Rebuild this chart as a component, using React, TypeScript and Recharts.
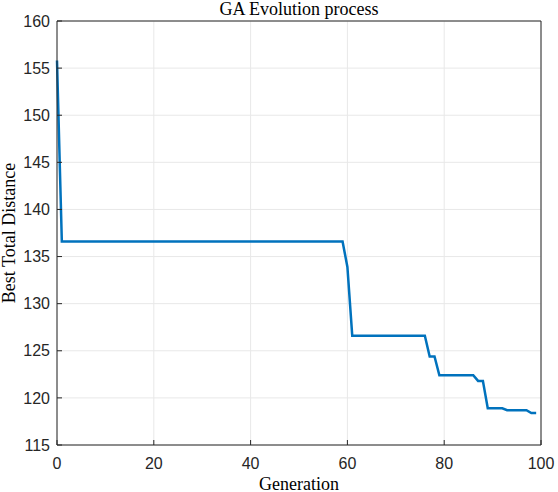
import React from 'react';
import { LineChart, Line, XAxis, YAxis, CartesianGrid } from 'recharts';

// generation index
const generations = [
    0, 1, 2, 3, 4, 5, 6, 7, 8, 9,
    10, 11, 12, 13, 14, 15, 16, 17, 18, 19,
    20, 21, 22, 23, 24, 25, 26, 27, 28, 29,
    30, 31, 32, 33, 34, 35, 36, 37, 38, 39,
    40, 41, 42, 43, 44, 45, 46, 47, 48, 49,
    50, 51, 52, 53, 54, 55, 56, 57, 58, 59,
    60, 61, 62, 63, 64, 65, 66, 67, 68, 69,
    70, 71, 72, 73, 74, 75, 76, 77, 78, 79,
    80, 81, 82, 83, 84, 85, 86, 87, 88, 89,
    90, 91, 92, 93, 94, 95, 96, 97, 98, 99,
];

// best total distance per generation
const bestDistance = [
    155.8, 136.6, 136.6, 136.6, 136.6, 136.6, 136.6, 136.6, 136.6, 136.6,
    136.6, 136.6, 136.6, 136.6, 136.6, 136.6, 136.6, 136.6, 136.6, 136.6,
    136.6, 136.6, 136.6, 136.6, 136.6, 136.6, 136.6, 136.6, 136.6, 136.6,
    136.6, 136.6, 136.6, 136.6, 136.6, 136.6, 136.6, 136.6, 136.6, 136.6,
    136.6, 136.6, 136.6, 136.6, 136.6, 136.6, 136.6, 136.6, 136.6, 136.6,
    136.6, 136.6, 136.6, 136.6, 136.6, 136.6, 136.6, 136.6, 136.6, 136.6,
    133.9, 126.6, 126.6, 126.6, 126.6, 126.6, 126.6, 126.6, 126.6, 126.6,
    126.6, 126.6, 126.6, 126.6, 126.6, 126.6, 126.6, 124.4, 124.4, 122.4,
    122.4, 122.4, 122.4, 122.4, 122.4, 122.4, 122.4, 121.8, 121.8, 118.9,
    118.9, 118.9, 118.9, 118.7, 118.7, 118.7, 118.7, 118.7, 118.4, 118.4,
];

const xTicks = [0, 20, 40, 60, 80, 100];
const yTicks = [115, 120, 125, 130, 135, 140, 145, 150, 155, 160];

const data = generations.map((g, i) => ({ gen: g, dist: bestDistance[i] }));

const AXIS = '#262626';
const SANS = '"Liberation Sans", Arial, sans-serif';
const SERIF = '"Liberation Serif", "Times New Roman", serif';

export default function App() {
    return (
        <div style={{ position: 'absolute', left: 0, top: 0, width: 558, height: 492, background: '#fff' }}>
            <LineChart
                width={558}
                height={492}
                data={data}
                margin={{ top: 21, right: 17, bottom: 0, left: 0 }}
            >
                <CartesianGrid xAxisId="bottom" yAxisId="left" stroke="#e8e8e8" strokeWidth={1} />
                <XAxis
                    xAxisId="bottom"
                    dataKey="gen"
                    type="number"
                    domain={[0, 100]}
                    ticks={xTicks}
                    height={47}
                    stroke={AXIS}
                    tickSize={-5}
                    tickMargin={18}
                    tick={{ fill: AXIS, fontSize: 16, fontFamily: SANS }}
                    label={{
                        value: 'Generation',
                        position: 'insideBottom',
                        offset: 2,
                        style: { fill: '#000', fontSize: 18, fontFamily: SERIF },
                    }}
                />
                {/* top edge of the box, ticks pointing in */}
                <XAxis
                    xAxisId="top"
                    orientation="top"
                    dataKey="gen"
                    type="number"
                    domain={[0, 100]}
                    ticks={xTicks}
                    mirror
                    height={1}
                    stroke={AXIS}
                    tickSize={5}
                    tick={false}
                    label={{
                        value: 'GA Evolution process',
                        position: 'top',
                        offset: 6,
                        style: { fill: '#000', fontSize: 18, fontFamily: SERIF },
                    }}
                />
                <YAxis
                    yAxisId="left"
                    type="number"
                    domain={[115, 160]}
                    ticks={yTicks}
                    interval={0}
                    width={57}
                    stroke={AXIS}
                    tickSize={-5}
                    tickMargin={12}
                    tick={{ fill: AXIS, fontSize: 16, fontFamily: SANS }}
                    label={{
                        value: 'Best Total Distance',
                        angle: -90,
                        position: 'insideLeft',
                        offset: 9,
                        style: { textAnchor: 'middle', fill: '#000', fontSize: 18, fontFamily: SERIF },
                    }}
                />
                {/* right edge of the box */}
                <YAxis
                    yAxisId="right"
                    orientation="right"
                    type="number"
                    domain={[115, 160]}
                    ticks={yTicks}
                    interval={0}
                    mirror
                    width={1}
                    stroke={AXIS}
                    tickSize={5}
                    tick={false}
                />
                <Line
                    xAxisId="bottom"
                    yAxisId="left"
                    type="linear"
                    dataKey="dist"
                    stroke="#0072BD"
                    strokeWidth={2.5}
                    dot={false}
                    isAnimationActive={false}
                />
            </LineChart>
        </div>
    );
}
